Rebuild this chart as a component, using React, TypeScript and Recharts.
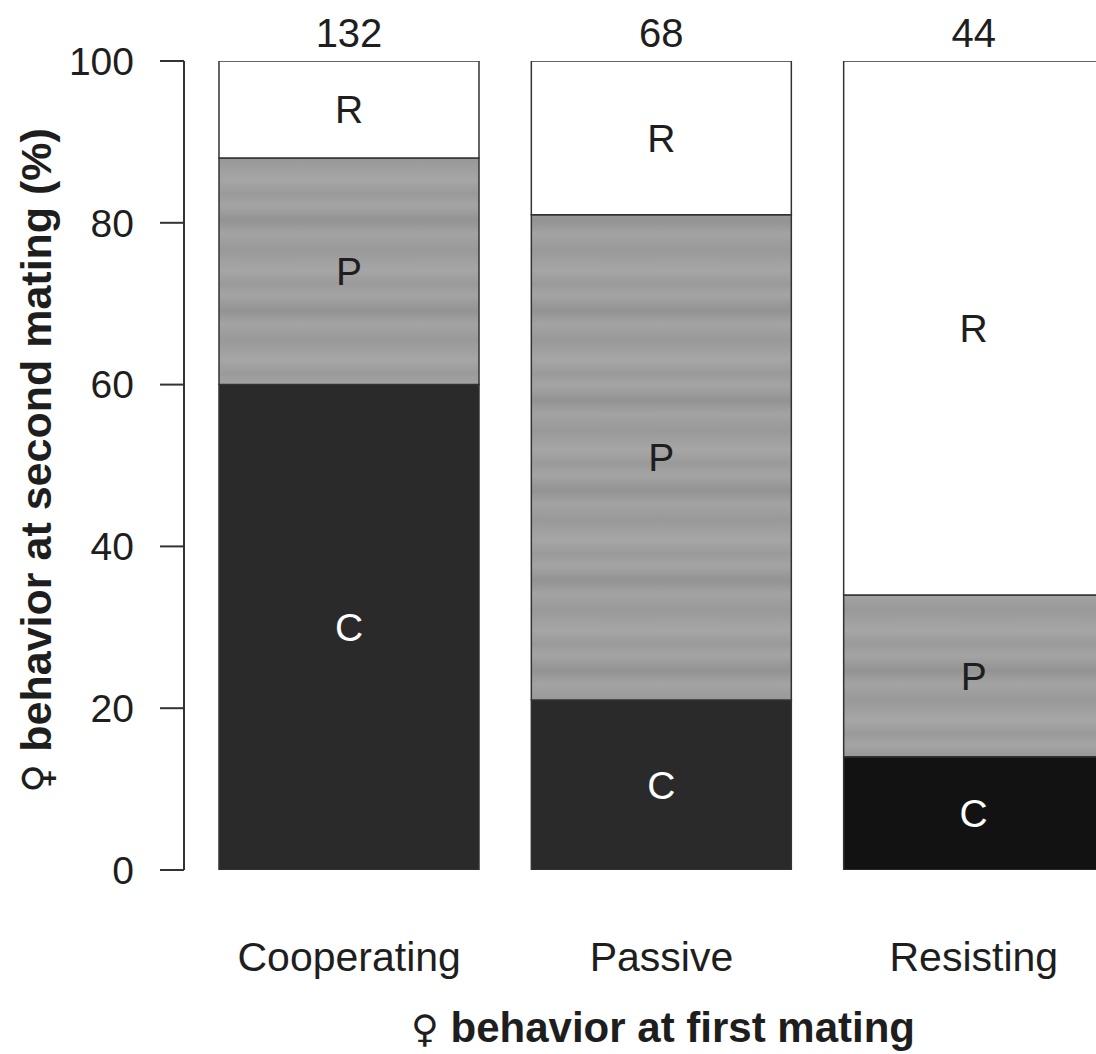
import React from 'react';
import { BarChart, Bar, XAxis, YAxis, Cell, LabelList, Label } from 'recharts';

const categories = ['Cooperating', 'Passive', 'Resisting'];
const sampleSizes = [132, 68, 44];
const cooperatingPct = [60, 21, 14];
const passivePct = [28, 60, 20];
const resistingPct = [12, 19, 66];
const yTicks = [0, 20, 40, 60, 80, 100];

const data = categories.map((name, i) => ({
  name,
  C: cooperatingPct[i],
  P: passivePct[i],
  R: resistingPct[i],
  n: sampleSizes[i],
}));

const FONT = '"Liberation Sans", Arial, Helvetica, sans-serif';
const cFills = ['#2a2a2a', '#2a2a2a', '#121212'];
const TEXT = '#1e1e1e';

const CategoryTick = (props: any) => {
  const { x, y, payload } = props;
  return (
    <text x={x} y={y + 101} textAnchor="middle" fontFamily={FONT} fontSize={41} fill={TEXT}>
      {payload.value}
    </text>
  );
};

const XTitle = (props: any) => {
  const vb = props.viewBox || {};
  return (
    <text x={vb.x + vb.width / 2 + 6} y={vb.y + 172} textAnchor="middle" fontFamily={FONT} fontSize={42} fontWeight="bold" fill={TEXT}>
      <tspan fontFamily='"DejaVu Sans", sans-serif' fontWeight="normal" fontSize={38}>♀</tspan>
      <tspan> behavior at first mating</tspan>
    </text>
  );
};

const YTitle = (props: any) => {
  const vb = props.viewBox || {};
  const cx = 51;
  const cy = vb.y + vb.height / 2 - 5;
  return (
    <text x={cx} y={cy} transform={`rotate(-90, ${cx}, ${cy})`} textAnchor="middle" fontFamily={FONT} fontSize={43} fontWeight="bold" fill={TEXT}>
      <tspan fontFamily='"DejaVu Sans", sans-serif' fontWeight="normal" fontSize={40}>♀</tspan>
      <tspan> behavior at second mating (%)</tspan>
    </text>
  );
};

export default function App() {
  return (
    <div style={{ position: 'absolute', left: 0, top: 0, width: 1096, height: 1054, overflow: 'hidden', background: '#fff' }}>
      <BarChart
        width={1140}
        height={1054}
        data={data}
        margin={{ top: 61, right: 10, bottom: 0, left: 0 }}
        barCategoryGap={26}
      >
        <defs>
          <linearGradient id="bandGrad" x1="0" y1="0" x2="0" y2="1">
            <stop offset="0%" stopColor="#a6a6a6" />
            <stop offset="15%" stopColor="#9a9a9a" />
            <stop offset="28%" stopColor="#a4a4a4" />
            <stop offset="45%" stopColor="#939393" />
            <stop offset="60%" stopColor="#a3a3a3" />
            <stop offset="78%" stopColor="#999999" />
            <stop offset="100%" stopColor="#a6a6a6" />
          </linearGradient>
          <pattern id="pBand" patternUnits="userSpaceOnUse" x="0" y="0" width="60" height="90">
            <rect x="0" y="0" width="60" height="90" fill="url(#bandGrad)" />
          </pattern>
        </defs>
        <XAxis
          dataKey="name"
          height={184}
          axisLine={false}
          tickLine={false}
          tickSize={0}
          tickMargin={0}
          tick={<CategoryTick />}
          padding={{ left: 9, right: 0 }}
        >
          <Label content={<XTitle />} />
        </XAxis>
        <YAxis
          width={184}
          domain={[0, 100]}
          ticks={yTicks}
          type="number"
          allowDataOverflow
          tickSize={24}
          tickMargin={26}
          axisLine={{ stroke: '#333', strokeWidth: 2 }}
          tickLine={{ stroke: '#333', strokeWidth: 2 }}
          tick={{ fontFamily: FONT, fontSize: 39, fill: TEXT }}
        >
          <Label content={<YTitle />} />
        </YAxis>
        <Bar dataKey="C" stackId="s" stroke="#333" strokeWidth={1.5} isAnimationActive={false}>
          {data.map((d, i) => (
            <Cell key={d.name} fill={cFills[i]} />
          ))}
          <LabelList dataKey="C" position="center" formatter={() => 'C'} fill="#ffffff" fontFamily={FONT} fontSize={39} />
        </Bar>
        <Bar dataKey="P" stackId="s" fill="url(#pBand)" stroke="#333" strokeWidth={1.5} isAnimationActive={false}>
          <LabelList dataKey="P" position="center" formatter={() => 'P'} fill={TEXT} fontFamily={FONT} fontSize={39} />
        </Bar>
        <Bar dataKey="R" stackId="s" fill="#ffffff" stroke="#333" strokeWidth={1.5} isAnimationActive={false}>
          <LabelList dataKey="R" position="center" formatter={() => 'R'} fill={TEXT} fontFamily={FONT} fontSize={39} />
          <LabelList dataKey="n" position="top" offset={14} fill={TEXT} fontFamily={FONT} fontSize={40} />
        </Bar>
      </BarChart>
    </div>
  );
}
